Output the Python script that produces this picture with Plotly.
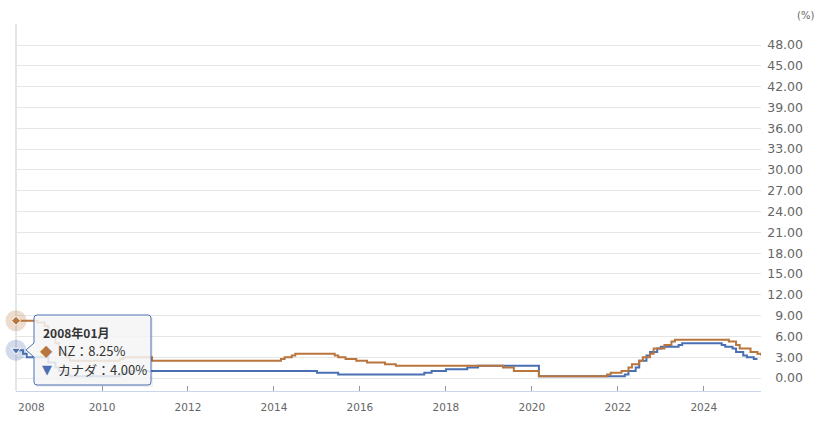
import plotly.graph_objects as go

# ---- data (policy rate change points, monthly) ----
nz_dates = ["2008-01-01", "2008-07-01", "2008-09-01", "2008-10-01", "2008-12-01", "2009-01-01",
            "2009-03-01", "2009-04-01", "2010-06-01", "2010-07-01", "2011-03-01", "2014-03-01",
            "2014-04-01", "2014-06-01", "2014-07-01", "2015-06-01", "2015-07-01", "2015-09-01",
            "2015-12-01", "2016-03-01", "2016-08-01", "2016-11-01", "2019-05-01", "2019-08-01",
            "2020-03-01", "2021-10-01", "2021-11-01", "2022-02-01", "2022-04-01", "2022-05-01",
            "2022-07-01", "2022-08-01", "2022-10-01", "2022-11-01", "2023-02-01", "2023-04-01",
            "2023-05-01", "2024-08-01", "2024-10-01", "2024-11-01", "2025-02-01", "2025-04-01",
            "2025-05-01"]
nz_vals = [8.25, 8.00, 7.50, 6.50, 5.00, 3.50,
           3.00, 2.50, 2.75, 3.00, 2.50, 2.75,
           3.00, 3.25, 3.50, 3.25, 3.00, 2.75,
           2.50, 2.25, 2.00, 1.75, 1.50, 1.00,
           0.25, 0.50, 0.75, 1.00, 1.50, 2.00,
           2.50, 3.00, 3.50, 4.25, 4.75, 5.25,
           5.50, 5.25, 4.75, 4.25, 3.75, 3.50,
           3.25]

ca_dates = ["2008-01-01", "2008-03-01", "2008-04-01", "2008-10-01", "2008-12-01", "2009-01-01",
            "2009-03-01", "2009-04-01", "2010-06-01", "2010-07-01", "2010-09-01", "2015-01-01",
            "2015-07-01", "2017-07-01", "2017-09-01", "2018-01-01", "2018-07-01", "2018-10-01",
            "2020-03-01", "2022-03-01", "2022-04-01", "2022-06-01", "2022-07-01", "2022-09-01",
            "2022-10-01", "2022-12-01", "2023-01-01", "2023-06-01", "2023-07-01", "2024-06-01",
            "2024-07-01", "2024-09-01", "2024-10-01", "2024-12-01", "2025-01-01", "2025-03-01",
            "2025-04-01"]
ca_vals = [4.00, 3.50, 3.00, 2.25, 1.50, 1.00,
           0.50, 0.25, 0.50, 0.75, 1.00, 0.75,
           0.50, 0.75, 1.00, 1.25, 1.50, 1.75,
           0.25, 0.50, 1.00, 1.50, 2.50, 3.25,
           3.75, 4.25, 4.50, 4.75, 5.00, 4.75,
           4.50, 4.25, 3.75, 3.25, 3.00, 2.75,
           2.75]

nz_name = "NZ"
ca_name = "カナダ"
x_ticks = ["2010-01-01", "2012-01-01", "2014-01-01", "2016-01-01", "2018-01-01",
           "2020-01-01", "2022-01-01", "2024-01-01"]
x_ticktext = ["2010", "2012", "2014", "2016", "2018", "2020", "2022", "2024"]
y_ticks = [0, 3, 6, 9, 12, 15, 18, 21, 24, 27, 30, 33, 36, 39, 42, 45, 48, 51]
y_ticktext = [f"{v:.2f}" for v in y_ticks[:-1]] + [""]

NZ_COLOR = "#b8763e"
CA_COLOR = "#4a70b3"
FONT = "Noto Sans CJK JP"
AXFONT = "DejaVu Sans"

W, H = 828, 425
ML, MR, MT, MB = 16, 25, 24, 34
PW, PH = W - ML - MR, H - MT - MB


def fx(px):
    return (px - ML) / PW


def fy(py):
    return (H - MB - py) / PH


fig = go.Figure()
fig.add_trace(go.Scatter(x=ca_dates, y=ca_vals, mode="lines", line=dict(color=CA_COLOR, width=2, shape="hv"),
                         name=ca_name, showlegend=False))
fig.add_trace(go.Scatter(x=nz_dates, y=nz_vals, mode="lines", line=dict(color=NZ_COLOR, width=2, shape="hv"),
                         name=nz_name, showlegend=False))
# hover halos + markers on first point
fig.add_trace(go.Scatter(x=[nz_dates[0]], y=[nz_vals[0]], mode="markers", cliponaxis=False, showlegend=False,
                         marker=dict(size=21, color=NZ_COLOR, opacity=0.25, line=dict(width=0))))
fig.add_trace(go.Scatter(x=[ca_dates[0]], y=[ca_vals[0]], mode="markers", cliponaxis=False, showlegend=False,
                         marker=dict(size=21, color=CA_COLOR, opacity=0.25, line=dict(width=0))))
fig.add_trace(go.Scatter(x=[nz_dates[0]], y=[nz_vals[0]], mode="markers", cliponaxis=False, showlegend=False,
                         marker=dict(symbol="diamond", size=7, color=NZ_COLOR, line=dict(width=1, color="white"))))
fig.add_trace(go.Scatter(x=[ca_dates[0]], y=[ca_vals[0]], mode="markers", cliponaxis=False, showlegend=False,
                         marker=dict(symbol="triangle-down", size=8, color=CA_COLOR, line=dict(width=1, color="white"))))

# tooltip box (callout with arrow)
x0, x1, y0, y1, r = 34, 151, 315, 385, 3
tipx, tipy, ab0, ab1 = 26, 350, 343, 357
pts = (f"M {fx(x0 + r)},{fy(y0)} L {fx(x1 - r)},{fy(y0)} Q {fx(x1)},{fy(y0)} {fx(x1)},{fy(y0 + r)} "
       f"L {fx(x1)},{fy(y1 - r)} Q {fx(x1)},{fy(y1)} {fx(x1 - r)},{fy(y1)} "
       f"L {fx(x0 + r)},{fy(y1)} Q {fx(x0)},{fy(y1)} {fx(x0)},{fy(y1 - r)} "
       f"L {fx(x0)},{fy(ab1)} L {fx(tipx)},{fy(tipy)} L {fx(x0)},{fy(ab0)} "
       f"L {fx(x0)},{fy(y0 + r)} Q {fx(x0)},{fy(y0)} {fx(x0 + r)},{fy(y0)} Z")
shadow = (f"M {fx(x0 + 2)},{fy(y0 + 2)} L {fx(x1 + 2)},{fy(y0 + 2)} L {fx(x1 + 2)},{fy(y1 + 2)} "
          f"L {fx(x0 + 2)},{fy(y1 + 2)} Z")
shapes = [
    dict(type="path", xref="paper", yref="paper", path=shadow, fillcolor="rgba(0,0,0,0.06)",
         line=dict(width=0), layer="above"),
    dict(type="path", xref="paper", yref="paper", path=pts, fillcolor="rgba(247,247,247,0.85)",
         line=dict(color=CA_COLOR, width=1), layer="above"),
    dict(type="line", xref="paper", yref="paper", x0=0, x1=0, y0=0, y1=1,
         line=dict(color="#cccccc", width=1), layer="below"),
]

annotations = [
    dict(text="(%)", xref="paper", yref="paper", x=fx(806), y=fy(16), showarrow=False,
         font=dict(family=AXFONT, size=10, color="#666666"), xanchor="center", yanchor="middle"),
    dict(text="2008", xref="x", yref="paper", x="2008-01-01", y=fy(407), showarrow=False,
         xanchor="left", yanchor="middle", xshift=0, font=dict(family=AXFONT, size=10.5, color="#666666")),
    dict(text="<b>2008年01月</b>", xref="paper", yref="paper", x=fx(41), y=fy(332), showarrow=False,
         xanchor="left", yanchor="middle", font=dict(family=FONT, size=12, color="#333333")),
    dict(text="◆", xref="paper", yref="paper", x=fx(46.5), y=fy(350), showarrow=False,
         xanchor="center", yanchor="middle", font=dict(family="DejaVu Sans", size=16, color=NZ_COLOR)),
    dict(text=f"{nz_name}：{nz_vals[0]:.2f}%", xref="paper", yref="paper", x=fx(56), y=fy(350),
         showarrow=False, xanchor="left", yanchor="middle", font=dict(family=FONT, size=13, color="#333333")),
    dict(text="▼", xref="paper", yref="paper", x=fx(46.5), y=fy(369), showarrow=False,
         xanchor="center", yanchor="middle", font=dict(family="DejaVu Sans", size=13, color=CA_COLOR)),
    dict(text=f"{ca_name}：{ca_vals[0]:.2f}%", xref="paper", yref="paper", x=fx(56), y=fy(369),
         showarrow=False, xanchor="left", yanchor="middle", font=dict(family=FONT, size=13, color="#333333")),
]

fig.update_layout(
    width=W, height=H,
    margin=dict(l=ML, r=MR, t=MT, b=MB),
    paper_bgcolor="white", plot_bgcolor="white",
    showlegend=False,
    xaxis=dict(type="date", range=["2008-01-01", "2025-05-01"], domain=[0, fx(761)],
               tickvals=x_ticks, ticktext=x_ticktext, ticks="inside", ticklen=5, tickcolor="#999999",
               showline=True, linecolor="#ccd6eb", linewidth=1, showgrid=False, zeroline=False,
               ticklabelstandoff=6,
               tickfont=dict(family=AXFONT, size=10.5, color="#666666"), anchor="y"),
    yaxis=dict(range=[-1.874, 51.03], anchor="free", position=1, side="left",
               tickvals=y_ticks, ticktext=y_ticktext, ticks="", showline=False,
               showgrid=True, gridcolor="#e6e6e6", gridwidth=1, zeroline=False,
               tickfont=dict(family=AXFONT, size=12.5, color="#666666")),
    shapes=shapes,
    annotations=annotations,
)

fig.write_html("out.html", config={"displayModeBar": False},
               post_script="document.body.style.margin='0px';")
